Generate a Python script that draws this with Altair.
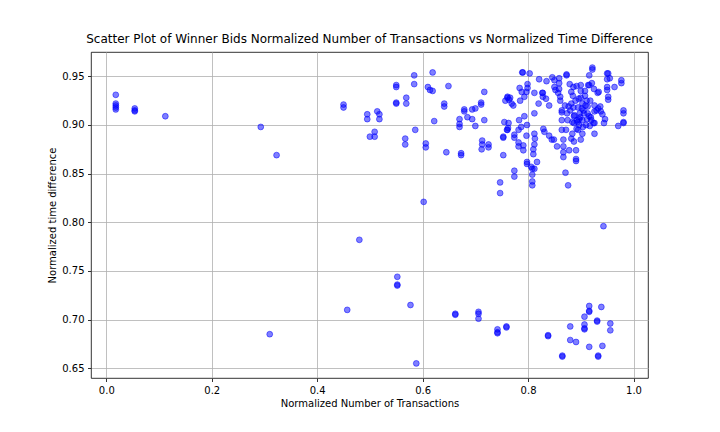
import pandas as pd
import altair as alt

# Normalized number of transactions (x) and normalized time difference (y)
left_x = [0.018, 0.018, 0.018, 0.018, 0.018, 0.054, 0.054, 0.054, 0.112, 0.293, 0.323,
          0.450, 0.450, 0.495, 0.495, 0.500, 0.509, 0.509, 0.514, 0.518, 0.518,
          0.480, 0.457, 0.310, 0.550, 0.550, 0.550, 0.550, 0.569, 0.569, 0.584, 0.584,
          0.619, 0.610, 0.614, 0.619, 0.649, 0.641, 0.641, 0.622, 0.586, 0.567, 0.567,
          0.606, 0.606, 0.645, 0.602, 0.552, 0.552, 0.552, 0.577, 0.588]
left_y = [0.931, 0.922, 0.920, 0.918, 0.916, 0.917, 0.915, 0.914, 0.909, 0.898, 0.869,
          0.921, 0.918, 0.911, 0.906, 0.888, 0.893, 0.888, 0.914, 0.911, 0.906,
          0.782, 0.710, 0.685, 0.941, 0.939, 0.923, 0.922, 0.928, 0.922, 0.951, 0.942,
          0.954, 0.939, 0.936, 0.935, 0.940, 0.922, 0.919, 0.904, 0.895, 0.886, 0.880,
          0.881, 0.877, 0.872, 0.821, 0.744, 0.736, 0.735, 0.715, 0.655]

mid_x = [0.670, 0.670, 0.670, 0.679, 0.679, 0.685, 0.694, 0.694, 0.700, 0.700,
         0.711, 0.711, 0.717, 0.717, 0.673, 0.673, 0.713, 0.713, 0.712, 0.725, 0.725,
         0.753, 0.753, 0.755, 0.761, 0.747, 0.747, 0.757, 0.761,
         0.774, 0.774, 0.808, 0.808, 0.808, 0.812, 0.798, 0.798, 0.817, 0.871, 0.876, 0.891]
mid_y = [0.906, 0.901, 0.898, 0.916, 0.914, 0.908, 0.916, 0.906, 0.917, 0.899,
         0.923, 0.921, 0.934, 0.905, 0.871, 0.869, 0.884, 0.880, 0.875, 0.880, 0.877,
         0.869, 0.888, 0.903, 0.895, 0.841, 0.830, 0.925, 0.928,
         0.853, 0.847, 0.849, 0.842, 0.838, 0.855, 0.862, 0.860, 0.862, 0.851, 0.838, 0.863]

low_x = [0.662, 0.662, 0.706, 0.706, 0.706, 0.742, 0.742, 0.742, 0.759, 0.759,
         0.838, 0.838, 0.865, 0.865, 0.880, 0.880, 0.891, 0.907, 0.916, 0.916, 0.916,
         0.907, 0.907, 0.907, 0.916, 0.931, 0.931, 0.939, 0.941, 0.933, 0.933,
         0.956, 0.956, 0.943]
low_y = [0.706, 0.705, 0.708, 0.706, 0.701, 0.690, 0.687, 0.686, 0.693, 0.692,
         0.684, 0.683, 0.663, 0.662, 0.693, 0.679, 0.677, 0.703, 0.714, 0.709, 0.708,
         0.695, 0.690, 0.691, 0.672, 0.699, 0.698, 0.713, 0.673, 0.663, 0.662,
         0.696, 0.689, 0.796]

cluster_x = [0.789, 0.790, 0.803, 0.821, 0.835, 0.846, 0.850, 0.850, 0.852, 0.859, 0.859,
             0.859, 0.857, 0.873, 0.873, 0.879, 0.882, 0.886, 0.892, 0.900, 0.900, 0.900,
             0.914, 0.916, 0.921, 0.922, 0.922, 0.916, 0.925, 0.932, 0.934, 0.950, 0.950,
             0.950, 0.950, 0.964, 0.977, 0.977, 0.981, 0.981, 0.981, 0.981, 0.971, 0.946,
             0.944, 0.952, 0.952, 0.933, 0.938, 0.941, 0.926, 0.926, 0.926, 0.926, 0.913,
             0.913, 0.916, 0.903, 0.903, 0.903, 0.897, 0.897, 0.895, 0.882, 0.880, 0.877,
             0.874, 0.887, 0.887, 0.864, 0.864, 0.864, 0.864, 0.861, 0.861, 0.882, 0.884,
             0.887, 0.867, 0.867, 0.867, 0.867, 0.878, 0.891, 0.891, 0.855, 0.849, 0.845,
             0.840, 0.840, 0.829, 0.831, 0.828, 0.828, 0.834, 0.820, 0.812, 0.812, 0.813,
             0.812, 0.810, 0.810, 0.806, 0.808, 0.798, 0.797, 0.793, 0.791, 0.791, 0.799,
             0.799, 0.797, 0.784, 0.788, 0.793, 0.785, 0.783, 0.782, 0.782, 0.782, 0.787,
             0.774, 0.774, 0.763, 0.762, 0.760, 0.753, 0.761, 0.764, 0.766, 0.772, 0.769,
             0.812, 0.827, 0.952, 0.955, 0.924, 0.937, 0.930, 0.890, 0.895, 0.905, 0.908,
             0.918, 0.898, 0.885, 0.870, 0.910, 0.920, 0.893, 0.875, 0.900, 0.872,
             0.888, 0.894, 0.899, 0.904, 0.909, 0.912, 0.917, 0.886, 0.892, 0.906, 0.911,
             0.902, 0.896, 0.919, 0.884, 0.908]
cluster_y = [0.954, 0.954, 0.953, 0.947, 0.945, 0.949, 0.946, 0.939, 0.936, 0.948, 0.943,
             0.937, 0.933, 0.952, 0.951, 0.942, 0.934, 0.939, 0.940, 0.941, 0.935, 0.928,
             0.941, 0.941, 0.943, 0.959, 0.957, 0.951, 0.937, 0.933, 0.934, 0.953, 0.947,
             0.939, 0.936, 0.939, 0.946, 0.943, 0.915, 0.912, 0.903, 0.902, 0.899, 0.906,
             0.902, 0.929, 0.926, 0.917, 0.914, 0.911, 0.920, 0.914, 0.902, 0.891, 0.919,
             0.912, 0.909, 0.922, 0.905, 0.891, 0.906, 0.900, 0.895, 0.922, 0.915, 0.919,
             0.912, 0.909, 0.902, 0.915, 0.913, 0.905, 0.895, 0.929, 0.925, 0.886, 0.891,
             0.883, 0.885, 0.878, 0.872, 0.867, 0.874, 0.874, 0.865, 0.878, 0.885, 0.885,
             0.889, 0.920, 0.896, 0.893, 0.933, 0.929, 0.927, 0.922, 0.912, 0.891, 0.886,
             0.880, 0.875, 0.870, 0.857, 0.855, 0.900, 0.889, 0.909, 0.879, 0.874, 0.942,
             0.938, 0.934, 0.938, 0.934, 0.929, 0.925, 0.905, 0.895, 0.882, 0.878, 0.898,
             0.890, 0.887, 0.902, 0.897, 0.895, 0.887, 0.929, 0.926, 0.928, 0.920, 0.922,
             0.933, 0.933, 0.953, 0.948, 0.902, 0.919, 0.915, 0.925, 0.918, 0.915, 0.930,
             0.925, 0.912, 0.930, 0.920, 0.900, 0.905, 0.905, 0.905, 0.885, 0.895,
             0.910, 0.903, 0.908, 0.898, 0.920, 0.906, 0.899, 0.918, 0.896, 0.912, 0.925,
             0.917, 0.927, 0.908, 0.903, 0.935]

x_ticks = [0.0, 0.2, 0.4, 0.6, 0.8, 1.0]
y_ticks = [0.65, 0.70, 0.75, 0.80, 0.85, 0.90, 0.95]

df = pd.DataFrame({
    "x": left_x + mid_x + low_x + cluster_x,
    "y": left_y + mid_y + low_y + cluster_y,
})

chart = alt.Chart(df).mark_circle(
    color="blue", fillOpacity=0.5, stroke="blue", strokeOpacity=0.5, strokeWidth=1, size=34
).encode(
    x=alt.X("x:Q", title="Normalized Number of Transactions",
            scale=alt.Scale(domain=[-0.029, 1.0275], nice=False, zero=False),
            axis=alt.Axis(values=x_ticks, format=".1f", titlePadding=3)),
    y=alt.Y("y:Q", title="Normalized time difference",
            scale=alt.Scale(domain=[0.640, 0.975], nice=False, zero=False),
            axis=alt.Axis(values=y_ticks, format=".2f", titlePadding=4)),
).properties(
    width=557,
    height=326,
    title=alt.TitleParams(
        "Scatter Plot of Winner Bids Normalized Number of Transactions vs Normalized Time Difference",
        font="DejaVu Sans", fontSize=12, fontWeight="normal", color="black", offset=6
    ),
    autosize=alt.AutoSizeParams(type="none"),
    padding={"left": 83, "top": 44, "right": 64, "bottom": 46},
).configure_view(
    stroke="black", strokeWidth=0.8
).configure_axis(
    grid=True, gridColor="#b0b0b0", gridWidth=0.8, domain=False,
    tickColor="black", tickSize=3.5, tickWidth=0.8, labelPadding=3.5,
    labelFont="DejaVu Sans", labelFontSize=10, labelColor="black",
    titleFont="DejaVu Sans", titleFontSize=10, titleFontWeight="normal", titleColor="black"
)

chart.save("out.html", embed_options={"renderer": "svg", "actions": False})
